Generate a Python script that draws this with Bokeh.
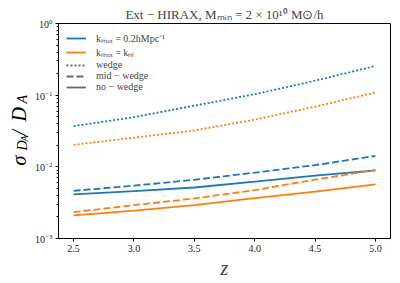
import math
from bokeh.plotting import figure
from bokeh.layouts import row
from bokeh.models import (Legend, LegendItem, Label, ColumnDataSource, FixedTicker,
                          NumeralTickFormatter, LogTickFormatter)
from bokeh.embed import file_html
from bokeh.resources import INLINE

# ---- data ----
z = [2.5, 3.0, 3.5, 4.0, 4.5, 5.0]
wedge_02 = [0.037, 0.0493, 0.0714, 0.103, 0.159, 0.256]
wedge_nl = [0.0203, 0.0255, 0.0322, 0.0455, 0.0691, 0.109]
midwedge_02 = [0.00462, 0.00547, 0.0066, 0.0083, 0.01056, 0.0142]
nowedge_02 = [0.00412, 0.00458, 0.00515, 0.00622, 0.00754, 0.0089]
midwedge_nl = [0.00233, 0.00292, 0.00362, 0.00473, 0.00663, 0.0090]
nowedge_nl = [0.0021, 0.00245, 0.00293, 0.00366, 0.00451, 0.0057]

x_ticks = [2.5, 3.0, 3.5, 4.0, 4.5, 5.0]
y_ticks = [1e-3, 1e-2, 1e-1, 1.0]
y_minor = [m * 10.0 ** e for e in (-3, -2, -1) for m in range(2, 10)]

title_text = "Ext \u2212 HIRAX, M\u2098\u1d62\u2099 = 2 \u00d7 10\u00b9\u2070 M\u2299/h"
legend_labels = ["k\u2098\u2090\u2093 = 0.2hMpc\u207b\u00b9", "k\u2098\u2090\u2093 = k\u2099\u2097",
                 "wedge", "mid \u2212 wedge", "no \u2212 wedge"]

BLUE = "#1f77b4"
ORANGE = "#ff7f0e"
GRAY = "#6a6a6a"
FONT = "Liberation Serif"
LW = 1.8
DOT = "2 2"
DASH = "7 3"

LABEL_W = 32
W, H = 400, 283
TOP, BOTTOM = 23, 45

p = figure(width=W - LABEL_W, height=H, x_range=(2.375, 5.125), y_range=(1e-3, 1.0),
           y_axis_type="log", output_backend="svg", toolbar_location=None,
           min_border_left=58 - LABEL_W, min_border_right=10, min_border_top=TOP,
           min_border_bottom=BOTTOM)

p.title.text = title_text
p.title.align = "center"
p.title.text_font = FONT
p.title.text_font_style = "normal"
p.title.text_font_size = "13px"
p.title.standoff = 4

p.xgrid.visible = False
p.ygrid.visible = False
p.outline_line_color = "black"
p.outline_line_alpha = 1.0
p.outline_line_width = 1
p.background_fill_color = "white"
p.border_fill_color = "white"

src = ColumnDataSource(dict(z=z, w02=wedge_02, wnl=wedge_nl, m02=midwedge_02, n02=nowedge_02,
                            mnl=midwedge_nl, nnl=nowedge_nl))

r_w02 = p.line("z", "w02", source=src, color=BLUE, line_width=LW, line_dash=DOT)
r_wnl = p.line("z", "wnl", source=src, color=ORANGE, line_width=LW, line_dash=DOT)
r_m02 = p.line("z", "m02", source=src, color=BLUE, line_width=LW, line_dash=DASH)
r_n02 = p.line("z", "n02", source=src, color=BLUE, line_width=LW)
r_mnl = p.line("z", "mnl", source=src, color=ORANGE, line_width=LW, line_dash=DASH)
r_nnl = p.line("z", "nnl", source=src, color=ORANGE, line_width=LW)

# legend-only style keys (no visible data)
empty = ColumnDataSource(dict(x=[float("nan")], y=[float("nan")]))
g_dot = p.line("x", "y", source=empty, color=GRAY, line_width=LW, line_dash=DOT)
g_dash = p.line("x", "y", source=empty, color=GRAY, line_width=LW, line_dash=DASH)
g_solid = p.line("x", "y", source=empty, color=GRAY, line_width=LW)

legend = Legend(items=[
    LegendItem(label=legend_labels[0], renderers=[r_n02]),
    LegendItem(label=legend_labels[1], renderers=[r_nnl]),
    LegendItem(label=legend_labels[2], renderers=[g_dot]),
    LegendItem(label=legend_labels[3], renderers=[g_dash]),
    LegendItem(label=legend_labels[4], renderers=[g_solid]),
], location="top_left")
legend.border_line_alpha = 0
legend.background_fill_alpha = 0
legend.label_text_font = FONT
legend.label_text_font_size = "10px"
legend.label_text_line_height = 1.15
legend.glyph_width = 20
legend.glyph_height = 10
legend.label_height = 10
legend.spacing = 0
legend.padding = 3
legend.margin = 5
legend.label_standoff = 10
p.add_layout(legend)

# axes
p.xaxis.ticker = FixedTicker(ticks=x_ticks, minor_ticks=[])
p.xaxis.formatter = NumeralTickFormatter(format="0.0")
p.yaxis.ticker = FixedTicker(ticks=y_ticks, minor_ticks=y_minor)
p.yaxis.formatter = LogTickFormatter()
for ax in (p.xaxis[0], p.yaxis[0]):
    ax.major_tick_in = 0
    ax.major_tick_out = 3
    ax.minor_tick_in = 0
    ax.minor_tick_out = 2
    ax.major_label_text_font = FONT
    ax.major_label_text_font_size = "10px"
    ax.major_label_text_color = "#222222"
    ax.axis_line_color = "black"
    ax.major_tick_line_color = "black"
    ax.minor_tick_line_color = "black"
    ax.major_label_standoff = 3

p.xaxis.axis_label = "z"
p.xaxis.axis_label_text_font = FONT
p.xaxis.axis_label_text_font_style = "italic"
p.xaxis.axis_label_text_font_size = "20px"
p.xaxis.axis_label_standoff = 2

# narrow side panel holding the composed y-axis label sigma_{D_A}/D_A
lab = figure(frame_width=LABEL_W, frame_height=H - TOP - BOTTOM, x_range=(0, 1), y_range=(0, 1),
             output_backend="svg", toolbar_location=None, title=None,
             x_axis_location=None, y_axis_location=None,
             min_border=0, min_border_left=0, min_border_right=0,
             min_border_top=0, min_border_bottom=0)
lab.xgrid.visible = False
lab.ygrid.visible = False
lab.outline_line_color = None
lab.background_fill_color = "white"
lab.border_fill_color = "white"

MAIN, SUB, SUBSUB = 20, 14, 10
# (text, font size, baseline x, start y measured up from the panel's frame bottom)
pieces = [("\u03c3", MAIN, 18, 73),
          ("D", SUB, 21.5, 88),
          ("A", SUBSUB, 23.5, 97),
          ("/", MAIN, 18, 103),
          ("D", MAIN, 18, 117),
          ("A", SUB, 21.5, 135)]
for txt, size, bx, by in pieces:
    lab.add_layout(Label(x=bx, y=by, x_units="screen", y_units="screen",
                         text=txt, angle=math.pi / 2, text_font=FONT, text_font_style="italic",
                         text_font_size=f"{size}px", text_align="left",
                         text_baseline="alphabetic", text_color="black"))

layout = row(lab, p, spacing=0)
open("out.html", "w").write(file_html(layout, INLINE))
